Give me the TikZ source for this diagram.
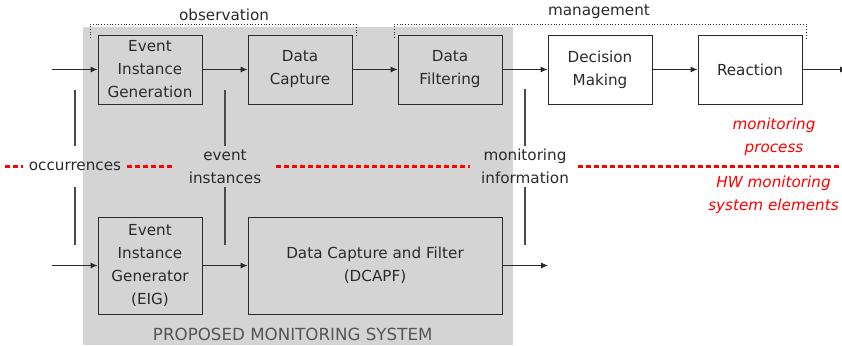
\documentclass[tikz,border=0pt]{standalone}
\usepackage{fontspec}
\setmainfont{DejaVu Sans}
\usetikzlibrary{arrows.meta}
\definecolor{panelgray}{HTML}{D4D4D4}
\definecolor{inkgray}{HTML}{2A2A2A}
\definecolor{linegray}{HTML}{4A4A4A}
\definecolor{capgray}{HTML}{555555}
\definecolor{divred}{HTML}{FF0000}

\begin{document}
\begin{tikzpicture}[x=1pt,y=-1pt,
  font=\fontsize{15.2}{23}\selectfont,
  every node/.style={text=inkgray},
  stagebox/.style={draw=inkgray, line width=0.9pt, align=center,
    minimum width=104pt, minimum height=69pt, inner sep=0pt},
  flow/.style={draw=inkgray, line width=0.9pt, -{Latex[length=7pt,width=6pt]}},
  tick/.style={draw=linegray, line width=1.2pt},
  cut/.style={align=center, minimum height=41pt, inner sep=0pt},
  divider/.style={draw=divred, line width=2.4pt, dash pattern=on 5pt off 3pt},
  bracket/.style={draw=inkgray, line width=0.8pt, dotted},
  note/.style={text=red, font=\fontsize{15.2}{23}\selectfont\itshape, align=center}]

\useasboundingbox (0,0) rectangle (842,345);

% shaded area of the proposed hardware
\fill[panelgray] (83,27) rectangle (513,345);

% monitoring process chain
\node[stagebox] (eigen) at (150,69.5) {Event\\Instance\\Generation};
\node[stagebox] (capture) at (300,69.5) {Data\\Capture};
\node[stagebox] (filter) at (450,69.5) {Data\\Filtering};
\node[stagebox, fill=white] (decide) at (600,69.5) {Decision\\Making};
\node[stagebox, fill=white] (react) at (750,69.5) {Reaction};

% hardware elements
\node[stagebox, minimum height=97pt] (eig) at (150,265.5)
  {Event\\Instance\\Generator\\(EIG)};
\node[stagebox, minimum width=254pt, minimum height=97pt] (dcapf) at (375,265.5)
  {Data Capture and Filter\\(DCAPF)};

% correspondence labels
\node[cut] (occ) at (75,166.5) {occurrences};
\node[cut] (evi) at (225,166.5) {event\\instances};
\node[cut] (mon) at (525,166.5) {monitoring\\information};

\coordinate (occtop) at (75,90);   \coordinate (occbot) at (75,245);
\coordinate (evitop) at (225,90);  \coordinate (evibot) at (225,245);
\coordinate (montop) at (525,89);  \coordinate (monbot) at (525,245);
\draw[tick] (occtop) -- (occ.north);  \draw[tick] (occ.south) -- (occbot);
\draw[tick] (evitop) -- (evi.north);  \draw[tick] (evi.south) -- (evibot);
\draw[tick] (montop) -- (mon.north);  \draw[tick] (mon.south) -- (monbot);

% divider between process and hardware
\coordinate (divL) at (5,166.5);
\coordinate (divR) at (842,166.5);
\draw[divider] (divL) -- ([xshift=-6pt]occ.west);
\draw[divider] ([xshift=6pt]occ.east) -- ([xshift=-16pt]evi.west);
\draw[divider] ([xshift=15pt]evi.east) -- ([xshift=-11pt]mon.west);
\draw[divider] ([xshift=9pt]mon.east) -- (divR);

\node[note] (proc) at (774,137) {monitoring\\process};
\node[note] (hw) at (773.5,194.5) {HW monitoring\\system elements};

% brackets above the chain
\draw[bracket] (90,38) -- (90,24) -- (356,24) -- (356,38);
\node (obs) at (224,15) {observation};
\draw[bracket] (394,38) -- (394,24) -- (806,24) -- (806,38);
\node (mgmt) at (599,12) {management};

% flow arrows, top row
\coordinate (inA) at (52,69.5);
\coordinate (outA) at (847,69.5);
\draw[flow] (inA) -- (eigen.west);
\draw[flow] (eigen.east) -- (capture.west);
\draw[flow] (capture.east) -- (filter.west);
\draw[flow] (filter.east) -- (decide.west);
\draw[flow] (decide.east) -- (react.west);
\draw[flow] (react.east) -- (outA);

% flow arrows, bottom row
\coordinate (inB) at (52,265.5);
\coordinate (outB) at (548,265.5);
\draw[flow] (inB) -- (eig.west);
\draw[flow] (eig.east) -- (dcapf.west);
\draw[flow] (dcapf.east) -- (outB);

\node[text=capgray, font=\fontsize{16.7}{20}\selectfont] (cap) at (292.7,334.6)
  {PROPOSED MONITORING SYSTEM};
\end{tikzpicture}
\end{document}
